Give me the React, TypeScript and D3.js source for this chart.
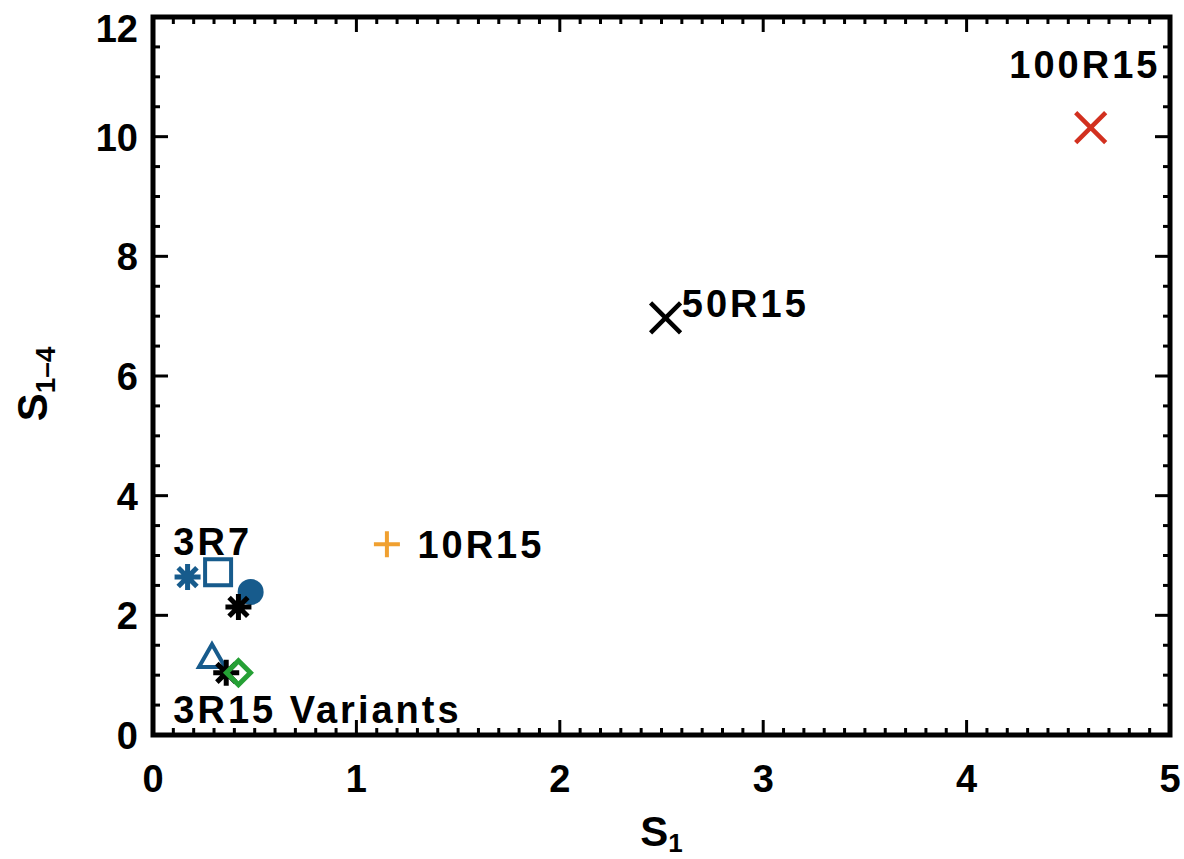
import React, { useEffect, useRef } from 'react';
import * as d3 from 'd3';

// scatter values
const runX = [4.61, 2.52, 1.15, 0.17, 0.32, 0.48, 0.42, 0.29, 0.36, 0.42];
const runY = [10.15, 6.97, 3.19, 2.64, 2.72, 2.39, 2.14, 1.30, 1.04, 1.04];
const runSymbol = ['x', 'x', 'plus', 'asterisk', 'square', 'circle', 'asterisk', 'triangle', 'asterisk', 'diamond'];
const runColor = ['#d2301f', '#000000', '#f0a030', '#175b8c', '#175b8c', '#175b8c', '#000000', '#175b8c', '#000000', '#25a035'];

const noteText = ['100R15', '50R15', '10R15', '3R7', '3R15 Variants'];
const noteX = [4.21, 2.60, 1.30, 0.10, 0.10];
const noteY = [10.98, 6.98, 2.96, 3.01, 0.2];

const xTicks = [0, 1, 2, 3, 4, 5];
const yTicks = [0, 2, 4, 6, 8, 10, 12];

const W = 1184;
const H = 859;
const FONT = '"Liberation Sans", Arial, sans-serif';

const symbolPath = (kind: string, s: number) => {
    const p = d3.path();
    if (kind === 'x') {
        p.moveTo(-s, -s); p.lineTo(s, s);
        p.moveTo(-s, s); p.lineTo(s, -s);
    } else if (kind === 'plus') {
        p.moveTo(-s, 0); p.lineTo(s, 0);
        p.moveTo(0, -s); p.lineTo(0, s);
    } else if (kind === 'asterisk') {
        const d = s * 0.72;
        p.moveTo(-s, 0); p.lineTo(s, 0);
        p.moveTo(0, -s); p.lineTo(0, s);
        p.moveTo(-d, -d); p.lineTo(d, d);
        p.moveTo(-d, d); p.lineTo(d, -d);
    } else if (kind === 'square') {
        p.rect(-s, -s, 2 * s, 2 * s);
    } else if (kind === 'triangle') {
        p.moveTo(0, -s); p.lineTo(s, s * 0.75); p.lineTo(-s, s * 0.75); p.closePath();
    } else if (kind === 'diamond') {
        p.moveTo(0, -s); p.lineTo(s, 0); p.lineTo(0, s); p.lineTo(-s, 0); p.closePath();
    } else if (kind === 'circle') {
        p.arc(0, 0, s, 0, 2 * Math.PI);
    }
    return p.toString();
};

const symbolSize: Record<string, number> = {
    x: 15, plus: 13, asterisk: 13, square: 13, triangle: 13, diamond: 12, circle: 13,
};
const symbolStroke: Record<string, number> = {
    x: 4.5, plus: 4, asterisk: 5, square: 4, triangle: 4, diamond: 5, circle: 0,
};

const App = () => {
    const wrapper = useRef<SVGSVGElement>(null);

    useEffect(() => {
        const svg = d3.select(wrapper.current);
        svg.selectAll('*').remove();

        const x = d3.scaleLinear().domain([0, 5]).range([153, 1170]);
        const y = d3.scaleLinear().domain([0, 12]).range([735, 17]);

        const [x0, x1] = x.range();
        const [y0, y1] = y.range();

        // minor + major ticks on all four sides, pointing inward
        const ticks = svg.append('g').attr('stroke', '#000').attr('stroke-width', 3);
        const xMinor = d3.range(0, 5.0001, 0.1);
        xMinor.forEach(v => {
            const major = Math.abs(v - Math.round(v)) < 1e-6;
            const len = major ? 15 : 7;
            ticks.append('line').attr('x1', x(v)).attr('x2', x(v)).attr('y1', y0).attr('y2', y0 - len);
            ticks.append('line').attr('x1', x(v)).attr('x2', x(v)).attr('y1', y1).attr('y2', y1 + len);
        });
        const yMinor = d3.range(0, 12.0001, 0.5);
        yMinor.forEach(v => {
            const major = Math.abs(v / 2 - Math.round(v / 2)) < 1e-6;
            const len = major ? 15 : 7;
            ticks.append('line').attr('x1', x0).attr('x2', x0 + len).attr('y1', y(v)).attr('y2', y(v));
            ticks.append('line').attr('x1', x1).attr('x2', x1 - len).attr('y1', y(v)).attr('y2', y(v));
        });

        svg.append('rect')
            .attr('x', x0).attr('y', y1)
            .attr('width', x1 - x0).attr('height', y0 - y1)
            .attr('fill', 'none').attr('stroke', '#000').attr('stroke-width', 5);

        // tick labels
        svg.append('g')
            .selectAll('text')
            .data(xTicks)
            .join('text')
            .attr('x', d => x(d))
            .attr('y', 792)
            .attr('text-anchor', 'middle')
            .attr('font-family', FONT)
            .attr('font-weight', 'bold')
            .attr('font-size', 38)
            .text(d => d);

        svg.append('g')
            .selectAll('text')
            .data(yTicks)
            .join('text')
            .attr('x', 138)
            .attr('y', d => Math.max(y(d) + 14, 42))
            .attr('text-anchor', 'end')
            .attr('font-family', FONT)
            .attr('font-weight', 'bold')
            .attr('font-size', 38)
            .text(d => d);

        // axis titles
        const xt = svg.append('text')
            .attr('x', (x0 + x1) / 2)
            .attr('y', 846)
            .attr('text-anchor', 'middle')
            .attr('font-family', FONT)
            .attr('font-weight', 'bold')
            .attr('font-size', 42);
        xt.append('tspan').text('S');
        xt.append('tspan').attr('font-size', 26).attr('dy', 6).text('1');

        const yt = svg.append('text')
            .attr('transform', `translate(47, ${(y0 + y1) / 2 + 8}) rotate(-90)`)
            .attr('text-anchor', 'middle')
            .attr('font-family', FONT)
            .attr('font-weight', 'bold')
            .attr('font-size', 42);
        yt.append('tspan').text('S');
        yt.append('tspan').attr('font-size', 28).attr('dy', 8).text('1\u20134');

        // points
        svg.append('g')
            .selectAll('path')
            .data(runX.map((v, i) => i))
            .join('path')
            .attr('transform', i => `translate(${x(runX[i])},${y(runY[i])})`)
            .attr('d', i => symbolPath(runSymbol[i], symbolSize[runSymbol[i]]))
            .attr('fill', i => runSymbol[i] === 'circle' ? runColor[i] : 'none')
            .attr('stroke', i => runColor[i])
            .attr('stroke-width', i => symbolStroke[runSymbol[i]]);

        // annotations
        svg.append('g')
            .selectAll('text')
            .data(noteText)
            .join('text')
            .attr('x', (d, i) => x(noteX[i]))
            .attr('y', (d, i) => y(noteY[i]))
            .attr('font-family', FONT)
            .attr('font-weight', 'bold')
            .attr('font-size', 38)
            .attr('letter-spacing', 3)
            .text(d => d);
    }, []);

    return (
        <svg
            ref={wrapper}
            width={W}
            height={H}
            style={{ position: 'absolute', left: 0, top: 0, background: '#fff' }}
        />
    );
};

export default App;
